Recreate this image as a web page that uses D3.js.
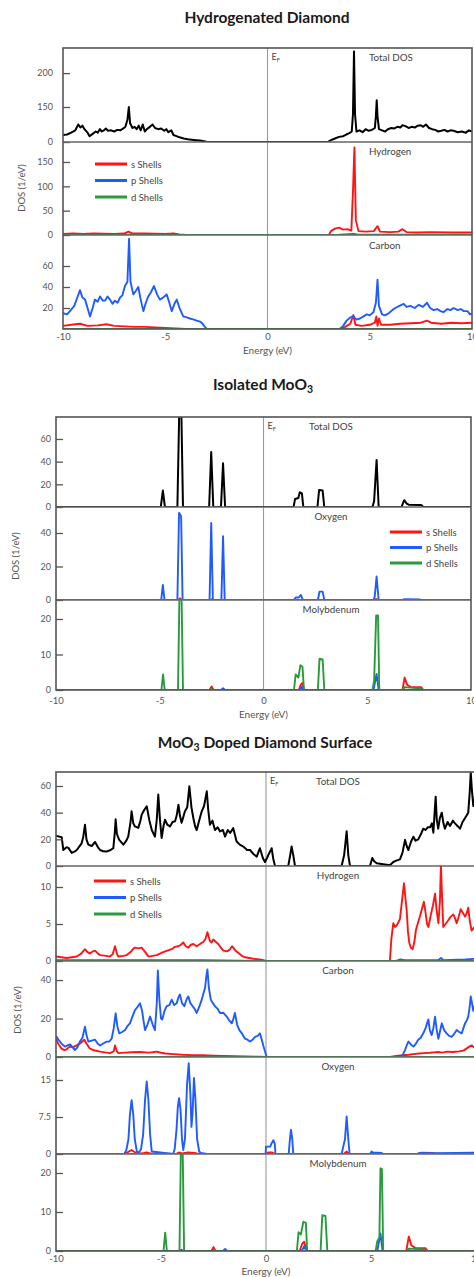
<!DOCTYPE html>
<html><head><meta charset="utf-8">
<script src="https://cdn.jsdelivr.net/npm/d3@7"></script>
<style>
body{margin:0;background:#fff;}
svg{display:block;}
</style></head><body>
<svg id="c" width="474" height="1277"></svg>
<script>
// ---------- data ----------
const energyTicks = [-10, -5, 0, 5, 10];
const shellNames = ["s Shells", "p Shells", "d Shells"];
const zeroLine = [[-10, 0], [10, 0]];

// Hydrogenated Diamond
const hdTotal = [[-10,30],[-9.8,32],[-9.6,40],[-9.4,50],[-9.25,75],[-9.15,62],[-9.05,70],[-8.95,55],[-8.8,40],[-8.7,25],[-8.55,35],[-8.4,45],[-8.3,40],[-8.2,55],[-8.1,45],[-8.0,50],[-7.9,58],[-7.8,48],[-7.65,50],[-7.5,45],[-7.35,52],[-7.2,50],[-7.05,58],[-6.95,65],[-6.85,95],[-6.78,150],[-6.72,80],[-6.6,60],[-6.5,65],[-6.4,55],[-6.3,70],[-6.2,50],[-6.1,75],[-6.0,45],[-5.9,55],[-5.75,65],[-5.62,75],[-5.5,60],[-5.35,55],[-5.2,58],[-5.05,48],[-4.95,55],[-4.85,42],[-4.7,50],[-4.6,30],[-4.45,25],[-4.3,20],[-4.1,15],[-3.9,12],[-3.7,10],[-3.5,8],[-3.3,6],[-3.1,3],[-2.95,0],[2.95,0],[3.1,8],[3.3,15],[3.5,22],[3.7,25],[3.85,32],[4.0,38],[4.12,45],[4.18,120],[4.23,232],[4.28,120],[4.35,45],[4.5,50],[4.65,42],[4.8,55],[4.95,48],[5.1,52],[5.25,60],[5.3,110],[5.34,160],[5.38,110],[5.45,55],[5.6,50],[5.75,45],[5.9,55],[6.05,60],[6.2,58],[6.35,65],[6.5,62],[6.6,72],[6.75,68],[6.9,60],[7.05,65],[7.2,62],[7.35,70],[7.5,72],[7.6,65],[7.75,75],[7.9,60],[8.05,55],[8.2,52],[8.35,45],[8.5,48],[8.65,52],[8.8,45],[8.95,50],[9.1,48],[9.3,42],[9.5,45],[9.7,40],[9.85,50],[10,45]];
const hdHydrogenS = [[-10,2],[-9.5,3],[-9,2],[-8.5,3],[-8,2.5],[-7.5,2],[-7,3],[-6.8,7],[-6.6,3],[-6,3],[-5.5,2.5],[-5,2],[-4.6,3],[-4.3,1],[-4,0],[3,0],[3.1,8],[3.3,13],[3.5,15],[3.7,11],[3.9,12],[4.1,9],[4.18,90],[4.25,180],[4.32,30],[4.45,8],[4.8,7],[5.2,8],[5.3,14],[5.38,18],[5.5,7],[6,6],[6.4,7],[6.6,12],[6.8,6],[7.3,5],[8,6],[9,5],[10,5]];
const hdHydrogenP = [[-10,0.5],[-4,0.3],[-3,0],[3,0],[3.5,0.5],[4.25,2],[4.4,0.5],[10,0.5]];
const hdHydrogenD = zeroLine;
const hdCarbonS = [[-10,3],[-9.6,4],[-9.17,5],[-8.8,3],[-8.3,3.5],[-7.87,4.5],[-7.5,3],[-7,2.5],[-6.5,2],[-6,2],[-5.5,1.5],[-5,1],[-4.5,0.5],[-4,0],[3.5,0],[3.8,2],[4.05,5],[4.2,13.3],[4.3,4],[4.6,3],[5.0,4],[5.25,6],[5.32,12],[5.38,3],[5.45,10],[5.55,4],[6,4],[6.5,5],[7,5.5],[7.5,6],[7.8,8],[8,6],[8.5,5],[9,6],[9.5,5.5],[10,6]];
const hdCarbonP = [[-10,15],[-9.8,14],[-9.66,17],[-9.45,22],[-9.3,30],[-9.17,37],[-9.05,30],[-8.92,28],[-8.8,20],[-8.68,12],[-8.55,20],[-8.44,28],[-8.3,26],[-8.19,31],[-8.05,27],[-7.95,27],[-7.82,31],[-7.7,28],[-7.58,24],[-7.46,27],[-7.33,25],[-7.21,30],[-7.1,32],[-6.97,41],[-6.85,45],[-6.77,86],[-6.7,45],[-6.56,33],[-6.45,36],[-6.32,40],[-6.2,28],[-6.07,17],[-5.95,25],[-5.83,31],[-5.7,35],[-5.55,41],[-5.4,33],[-5.26,28],[-5.1,30],[-4.93,33],[-4.8,25],[-4.68,17],[-4.55,24],[-4.44,28],[-4.3,20],[-4.12,12],[-3.95,11],[-3.79,10],[-3.6,9],[-3.46,8],[-3.3,7],[-3.22,6],[-3.1,3],[-2.97,0],[3.55,0],[3.7,3],[3.87,8],[4.05,11],[4.2,12],[4.35,9],[4.52,10],[4.7,12],[4.85,14],[5.0,13],[5.18,16],[5.3,25],[5.38,47],[5.45,22],[5.6,14],[5.75,13],[5.93,15],[6.1,18],[6.25,20],[6.45,22],[6.66,24],[6.8,21],[6.99,22],[7.2,20],[7.4,23],[7.6,21],[7.8,25],[7.95,20],[8.13,18],[8.3,19],[8.46,17],[8.6,16],[8.8,19],[8.95,18],[9.1,20],[9.3,18],[9.45,19],[9.6,17],[9.78,17],[9.9,14],[10,15]];
const hdCarbonD = zeroLine;

// Isolated MoO3
const moTotal = [[-10,0],[-4.95,0],[-4.85,14.5],[-4.75,0],[-4.15,0],[-4.06,85],[-3.96,85],[-3.88,0],[-2.62,0],[-2.52,48.5],[-2.42,0],[-2.05,0],[-1.95,38.5],[-1.85,0],[1.45,0],[1.52,7],[1.68,8],[1.75,13],[1.85,12],[1.92,0],[2.6,0],[2.68,15],[2.85,14.5],[2.93,0],[5.25,0],[5.33,5],[5.45,41.5],[5.55,0],[6.65,0],[6.78,6],[6.9,3],[7.0,2],[7.6,1.8],[7.7,0],[10,0]];
const moOxygenS = [[-10,0],[-4.1,0],[-4.03,1],[-3.95,0],[-2.55,0],[-2.5,0.5],[-2.45,0],[5.38,0],[5.43,0.6],[5.5,0],[10,0]];
const moOxygenP = [[-10,0],[-4.93,0],[-4.85,9],[-4.77,0],[-4.15,0],[-4.07,52],[-3.97,50],[-3.9,0],[-2.6,0],[-2.52,46],[-2.44,0],[-2.03,0],[-1.95,38],[-1.87,0],[1.45,0],[1.55,1.5],[1.7,1.5],[1.8,3],[1.9,0],[2.62,0],[2.7,5],[2.85,5],[2.93,0],[5.3,0],[5.36,2],[5.45,14],[5.55,0],[6.7,0],[6.8,0.5],[7.5,0.3],[7.6,0],[10,0]];
const moOxygenD = zeroLine;
const moMolyS = [[-10,0],[-2.6,0],[-2.5,1],[-2.4,0],[1.7,0],[1.8,1.5],[1.88,2],[1.95,0],[6.7,0],[6.8,3.5],[6.92,1.5],[7.1,0.8],[7.6,0.8],[7.7,0],[10,0]];
const moMolyP = [[-10,0],[-2.05,0],[-1.95,0.5],[-1.85,0],[1.75,0],[1.85,1],[1.93,0],[5.3,0],[5.45,4.5],[5.55,0],[10,0]];
const moMolyD = [[-10,0],[-4.92,0],[-4.84,4.4],[-4.76,0],[-4.12,0],[-4.05,27],[-3.95,27],[-3.88,0],[-2.55,0],[-2.5,0.4],[-2.45,0],[1.47,0],[1.55,4.4],[1.68,3.5],[1.78,7],[1.88,6.5],[1.95,0],[2.62,0],[2.7,8.8],[2.85,8.6],[2.93,0],[5.25,0],[5.33,2.5],[5.43,21],[5.52,21],[5.58,0],[6.7,0],[6.8,0.8],[7.6,0.4],[7.7,0],[10,0]];

// MoO3 Doped Diamond Surface
const dsTotal = [[-10,22],[-9.97,22.6],[-9.73,21.6],[-9.65,12],[-9.5,14],[-9.41,13.6],[-9.25,9.8],[-9.1,11],[-9.01,12],[-8.78,17],[-8.7,22],[-8.62,31],[-8.55,20],[-8.46,16],[-8.3,15],[-8.14,18],[-8.0,14],[-7.9,12],[-7.75,11],[-7.59,10.8],[-7.4,12],[-7.27,13.4],[-7.2,25],[-7.16,35],[-7.1,24],[-6.99,19.6],[-6.79,16],[-6.65,19],[-6.56,22],[-6.45,33],[-6.4,41],[-6.32,32],[-6.24,29.7],[-6.08,28.6],[-5.98,34],[-5.92,38.5],[-5.8,42],[-5.68,44.8],[-5.55,34],[-5.44,27],[-5.29,22],[-5.2,35],[-5.13,53.6],[-5.05,35],[-4.97,21],[-4.88,30],[-4.81,34.7],[-4.7,31],[-4.57,29.7],[-4.45,33],[-4.33,33.5],[-4.25,38],[-4.17,46],[-4.1,38],[-4.02,32.4],[-3.95,36],[-3.86,41],[-3.75,44],[-3.65,59.8],[-3.55,44],[-3.46,36],[-3.38,30],[-3.3,27],[-3.2,33],[-3.06,41],[-2.95,45],[-2.82,56],[-2.75,42],[-2.67,31],[-2.55,34],[-2.43,27],[-2.3,29],[-2.19,25.9],[-2.05,27],[-1.95,22],[-1.82,27],[-1.71,24.8],[-1.56,28.4],[-1.4,18.4],[-1.25,16],[-1.08,14.6],[-0.9,12],[-0.76,12],[-0.6,9],[-0.44,7],[-0.35,11],[-0.29,13.3],[-0.15,6],[-0.05,3],[0.05,6],[0.11,8.3],[0.2,11],[0.27,13.3],[0.35,5],[0.43,0],[1.06,0],[1.15,8],[1.22,14.6],[1.3,8],[1.38,0],[3.6,0],[3.72,8],[3.84,26],[3.92,8],[4.0,0],[4.95,0],[5.06,6],[5.15,3.5],[5.27,2],[5.5,1.5],[5.9,0.5],[6.06,3],[6.2,4],[6.38,5],[6.5,10],[6.62,19.6],[6.7,15],[6.78,12],[6.9,18],[7.02,22],[7.12,19],[7.25,20],[7.38,24],[7.49,28],[7.6,27],[7.7,29],[7.81,29],[7.9,32],[7.97,25],[8.03,40],[8.08,52],[8.13,35],[8.2,28],[8.28,36],[8.37,40],[8.45,32],[8.52,28],[8.65,33],[8.76,30],[8.9,34],[9.0,32],[9.12,30],[9.24,28],[9.36,33],[9.48,36],[9.56,38],[9.63,40],[9.7,55],[9.75,70],[9.8,58],[9.87,45],[9.95,52],[10,48]];
const dsHydrogenS = [[-10,0.6],[-9.75,0.5],[-9.49,0.4],[-9.25,0.5],[-9.01,0.6],[-8.8,1.0],[-8.62,1.6],[-8.5,1.2],[-8.38,1.0],[-8.25,1.3],[-8.14,1.4],[-8.0,1.0],[-7.9,0.8],[-7.6,0.7],[-7.43,0.6],[-7.3,0.9],[-7.19,2.0],[-7.1,1.0],[-7.03,0.6],[-6.8,0.7],[-6.63,0.8],[-6.45,1.2],[-6.3,1.7],[-6.24,1.8],[-6.08,1.7],[-5.92,1.8],[-5.75,1.2],[-5.6,0.6],[-5.4,0.7],[-5.21,0.8],[-5.05,1.0],[-4.89,1.2],[-4.7,1.4],[-4.49,1.6],[-4.35,1.9],[-4.17,2.0],[-4.05,2.2],[-3.94,2.5],[-3.82,2.0],[-3.7,1.8],[-3.58,2.2],[-3.46,2.3],[-3.3,2.0],[-3.14,2.3],[-2.98,2.6],[-2.88,3.0],[-2.79,3.9],[-2.72,3.2],[-2.67,2.7],[-2.59,2.5],[-2.51,2.9],[-2.4,2.6],[-2.27,2.3],[-2.15,1.8],[-2.03,1.4],[-1.85,1.3],[-1.71,1.6],[-1.62,2.0],[-1.56,1.8],[-1.45,1.4],[-1.32,1.1],[-1.15,0.7],[-1.0,0.5],[-0.8,0.4],[-0.6,0.3],[-0.3,0.2],[-0.13,0.1],[0.0,0],[5.9,0],[5.97,3],[6.06,5.1],[6.14,4.6],[6.22,4.8],[6.3,5.2],[6.38,5.7],[6.47,8],[6.57,10.5],[6.64,8.5],[6.7,6.8],[6.76,4],[6.82,2.5],[6.9,1.8],[6.98,1.6],[7.06,2.5],[7.14,4.2],[7.24,5.2],[7.33,6.0],[7.42,7],[7.52,8.0],[7.6,6.5],[7.67,5],[7.73,4.6],[7.8,5.5],[7.86,6.4],[7.95,7.5],[8.05,9.1],[8.12,7],[8.21,5.1],[8.28,8],[8.33,13],[8.38,9],[8.44,4.6],[8.55,5],[8.68,5.5],[8.8,6],[8.92,6.3],[9.0,5.8],[9.08,5.1],[9.18,6],[9.27,7.0],[9.38,6.5],[9.48,6.0],[9.56,6.5],[9.63,7.2],[9.7,5.5],[9.79,4.1],[9.9,4.5],[10,4.8]];
const dsHydrogenP = [[-10,0.1],[-6,0.1],[-3,0.1],[0,0],[6.2,0],[6.4,0.2],[6.6,0.1],[8.2,0.1],[8.33,0.4],[8.45,0.1],[9.5,0.2],[10,0.3]];
const dsHydrogenD = zeroLine;
const dsCarbonS = [[-10,9.5],[-9.9,7],[-9.75,4.5],[-9.6,3.6],[-9.5,4],[-9.35,5.4],[-9.2,5],[-9.0,6.2],[-8.8,7.5],[-8.65,9],[-8.55,7],[-8.4,4.5],[-8.2,3.5],[-7.9,2.8],[-7.6,2.3],[-7.43,2],[-7.25,3],[-7.19,6],[-7.1,3],[-7.03,2],[-6.7,2.3],[-6.4,2.5],[-6.0,2.6],[-5.6,2.3],[-5.4,2.5],[-5.2,2.8],[-5.0,2.2],[-4.8,1.8],[-4.4,1.5],[-4.0,1.2],[-3.5,1.0],[-3.0,0.9],[-2.5,0.7],[-2.0,0.5],[-1.5,0.4],[-1.0,0.3],[-0.3,0.1],[0,0],[5.9,0],[6.2,0.5],[6.5,0.9],[6.8,1.2],[7.0,1.5],[7.3,1.8],[7.5,2.0],[7.8,2.2],[8.0,2.4],[8.2,2.6],[8.4,2.3],[8.6,2.8],[8.9,2.6],[9.2,2.9],[9.4,3.3],[9.56,4.5],[9.7,5.5],[9.8,6],[9.9,5],[10,5.5]];
const dsCarbonP = [[-10,10],[-9.97,10.5],[-9.89,9],[-9.81,8],[-9.7,6.5],[-9.57,5.4],[-9.45,6],[-9.33,6.5],[-9.2,5],[-9.1,3.6],[-8.98,5],[-8.86,8],[-8.74,10],[-8.62,15.7],[-8.54,11],[-8.46,8],[-8.3,8.5],[-8.14,9],[-8.02,7],[-7.9,6],[-7.75,7],[-7.59,8],[-7.47,8],[-7.35,9.5],[-7.25,15],[-7.16,22.7],[-7.08,16],[-6.99,12.3],[-6.85,13],[-6.71,14],[-6.6,16],[-6.48,17.5],[-6.36,21],[-6.24,24.4],[-6.12,26],[-6.0,27.9],[-5.9,24],[-5.82,18],[-5.76,14],[-5.64,17],[-5.52,21],[-5.4,17],[-5.29,14],[-5.2,28],[-5.15,45],[-5.08,30],[-5.0,20],[-4.94,19.5],[-4.83,24],[-4.73,26.4],[-4.6,27],[-4.49,29.8],[-4.37,27],[-4.25,28],[-4.17,31],[-4.1,32.5],[-4.0,28],[-3.89,26.4],[-3.78,30],[-3.7,31.5],[-3.6,28],[-3.49,26.4],[-3.4,25],[-3.3,22.9],[-3.18,26],[-3.06,29.8],[-2.98,33],[-2.9,36],[-2.84,42],[-2.79,45.5],[-2.72,36],[-2.63,29.8],[-2.53,28],[-2.43,26.4],[-2.3,25],[-2.19,22.9],[-2.03,23],[-1.87,21],[-1.75,19],[-1.63,17.5],[-1.55,20],[-1.48,22.9],[-1.38,17],[-1.27,14],[-1.13,12],[-1.0,9.5],[-0.88,9],[-0.76,8],[-0.64,9],[-0.52,10.5],[-0.4,11],[-0.29,12.3],[-0.2,9],[-0.13,6],[-0.05,3],[0.03,0],[6.46,0],[6.55,2],[6.62,3.6],[6.7,6],[6.78,8],[6.9,6.5],[7.02,5.4],[7.14,7],[7.25,9],[7.37,10],[7.49,12.3],[7.6,15],[7.68,18],[7.73,19.5],[7.8,14],[7.89,11.4],[7.97,15],[8.05,21],[8.13,14],[8.21,9.5],[8.3,14],[8.37,17.5],[8.48,14],[8.6,12.3],[8.72,11],[8.84,10.5],[8.96,12],[9.08,14],[9.2,13],[9.32,12.3],[9.4,15],[9.48,17.5],[9.56,19],[9.63,21],[9.7,26],[9.75,31.5],[9.81,28],[9.87,24],[9.95,27],[10,26]];
const dsCarbonD = zeroLine;
const dsOxygenS = [[-10,0],[-6.7,0],[-6.5,0.6],[-6.4,0.8],[-6.3,0.5],[-6.1,0],[-5.8,0.2],[-5.7,0.3],[-5.5,0.1],[-4.3,0],[-4.15,0.3],[-4.0,0.1],[-3.7,0.3],[-3.4,0.2],[-3.2,0],[0,0],[0.1,0.3],[0.3,0.3],[0.45,0],[3.7,0],[3.84,0.5],[3.95,0],[5.0,0],[5.1,0.15],[5.4,0.1],[5.6,0],[7.2,0],[7.4,0.25],[7.9,0.2],[8.2,0],[10,0]];
const dsOxygenP = [[-10,0],[-6.75,0],[-6.65,0.8],[-6.55,3],[-6.48,8],[-6.4,10.9],[-6.32,8],[-6.25,3],[-6.15,0.5],[-6.05,0.3],[-5.95,1.0],[-5.85,4],[-5.76,11],[-5.68,14.7],[-5.6,11],[-5.52,4],[-5.44,0.5],[-4.42,0],[-4.35,1],[-4.26,5],[-4.2,9.5],[-4.14,11.3],[-4.07,9],[-4.0,3],[-3.94,0.8],[-3.86,3],[-3.76,14],[-3.68,18.4],[-3.6,12],[-3.55,5.5],[-3.5,8],[-3.43,15.4],[-3.36,11],[-3.28,3],[-3.18,0.5],[-3.1,0.2],[-2.8,0],[-0.02,0],[0.0,1.5],[0.2,1.5],[0.27,2.2],[0.35,2.8],[0.42,2.0],[0.45,0],[1.08,0],[1.14,3],[1.19,4.9],[1.25,3],[1.3,0],[3.6,0],[3.68,1.5],[3.76,3],[3.84,7.6],[3.92,3],[3.98,0],[4.95,0],[5.03,0.5],[5.1,0.3],[5.5,0.2],[5.6,0],[7.2,0],[7.35,0.2],[8.0,0.15],[9,0.2],[10,0.25]];
const dsOxygenD = zeroLine;
const dsMolyS = [[-10,0],[-2.6,0],[-2.5,1],[-2.4,0],[1.6,0],[1.72,1.8],[1.82,2.4],[1.92,0],[6.68,0],[6.8,3.7],[6.92,1.5],[7.1,0.8],[7.6,0.7],[7.7,0],[10,0]];
const dsMolyP = [[-10,0],[-4.1,0],[-4.02,0.3],[-3.95,0],[-2.05,0],[-1.95,0.5],[-1.85,0],[1.7,0],[1.82,1.2],[1.92,0],[5.3,0],[5.45,4.5],[5.55,0],[10,0]];
const dsMolyD = [[-10,0],[-4.88,0],[-4.8,4.7],[-4.72,0],[-4.12,0],[-4.05,27],[-3.97,27],[-3.9,0],[-2.55,0],[-2.48,0.4],[-2.42,0],[1.47,0],[1.55,4.8],[1.66,4.2],[1.78,7.5],[1.9,7.2],[1.96,0],[2.6,0],[2.68,9.2],[2.83,9.0],[2.92,0],[5.22,0],[5.3,2.5],[5.4,3.5],[5.45,21.2],[5.52,21],[5.58,0],[6.7,0],[6.8,0.6],[7.6,0.4],[7.7,0],[10,0]];

// tick labels per panel
const hdTotalTicks = [0, 150, 200], hdHydrogenTicks = [0, 50, 100, 150], hdCarbonTicks = [20, 40, 60];
const moTotalTicks = [0, 20, 40, 60], moOxygenTicks = [0, 20, 40], moMolyTicks = [0, 10, 20];
const dsTotalTicks = [0, 20, 40, 60], dsHydrogenTicks = [0, 5, 10], dsCarbonTicks = [0, 20, 40], dsOxygenTicks = [0, 7.5, 15], dsMolyTicks = [0, 10, 20];

// ---------- layout / style ----------
const COL = { s: "#ff1414", p: "#1f5bff", d: "#2a9a3c", total: "#000" };
const FONT = "Lato, 'Open Sans', 'Liberation Sans', sans-serif";
const shells = (s, p, d) => [{ data: s, c: COL.s }, { data: p, c: COL.p }, { data: d, c: COL.d }];

const charts = [
  { title: [["Hydrogenated Diamond"]], titleX: 267, titleY: 23, left: 63, right: 472, tickPad: 10,
    xLabY: 340, xTitleY: 354, dosX: 25, dosY: 188, labX: 369, labAnchor: "start",
    legend: { x: 95, y: 164, dy: 16.5 },
    panels: [
      { name: "Total DOS", domain: [0, 150, 237], range: [142, 107, 48], ticks: hdTotalTicks, series: [{ data: hdTotal, c: COL.total }], ef: true },
      { name: "Hydrogen", domain: [0, 191], range: [235, 142], ticks: hdHydrogenTicks, series: shells(hdHydrogenS, hdHydrogenP, hdHydrogenD) },
      { name: "Carbon", domain: [0, 88.6], range: [329, 236], ticks: hdCarbonTicks, series: shells(hdCarbonS, hdCarbonP, hdCarbonD) }
    ] },
  { title: [["Isolated MoO"], ["3", true]], titleX: 263, titleY: 390, left: 56, right: 471, tickPad: 5,
    xLabY: 704, xTitleY: 718, dosX: 19, dosY: 556, labX: 331, labAnchor: "middle",
    legend: { x: 390, y: 532, dy: 15.5, panel: 1 },
    panels: [
      { name: "Total DOS", domain: [0, 79.4], range: [507, 417], ticks: moTotalTicks, series: [{ data: moTotal, c: COL.total }], ef: true },
      { name: "Oxygen", domain: [0, 55.5], range: [600, 507], ticks: moOxygenTicks, series: shells(moOxygenS, moOxygenP, moOxygenD) },
      { name: "Molybdenum", domain: [0, 25.35], range: [690, 600], ticks: moMolyTicks, series: shells(moMolyS, moMolyP, moMolyD) }
    ] },
  { title: [["MoO"], ["3", true], [" Doped Diamond Surface"]], titleX: 265, titleY: 748, left: 56, right: 476, tickPad: 5,
    xLabY: 1262, xTitleY: 1275, dosX: 21, dosY: 1010, labX: 338, labAnchor: "middle",
    legend: { x: 94, y: 881, dy: 16.5 },
    panels: [
      { name: "Total DOS", domain: [0, 70.5], range: [866, 772], ticks: dsTotalTicks, series: [{ data: dsTotal, c: COL.total }], ef: true },
      { name: "Hydrogen", domain: [0, 12.84], range: [961, 866], ticks: dsHydrogenTicks, series: shells(dsHydrogenS, dsHydrogenP, dsHydrogenD) },
      { name: "Carbon", domain: [0, 49.9], range: [1057, 961], ticks: dsCarbonTicks, series: shells(dsCarbonS, dsCarbonP, dsCarbonD) },
      { name: "Oxygen", domain: [0, 19.66], range: [1154, 1057], ticks: dsOxygenTicks, series: shells(dsOxygenS, dsOxygenP, dsOxygenD) },
      { name: "Molybdenum", domain: [0, 24.87], range: [1251, 1154], ticks: dsMolyTicks, series: shells(dsMolyS, dsMolyP, dsMolyD) }
    ] }
];

// ---------- draw ----------
const svg = d3.select("#c").attr("font-family", FONT);
const defs = svg.append("defs");

charts.forEach((ch, ci) => {
  const g = svg.append("g");
  const x = d3.scaleLinear().domain([-10, 10]).range([ch.left, ch.right]);
  const top = ch.panels[0].range[ch.panels[0].range.length - 1];
  const bottom = ch.panels[ch.panels.length - 1].range[0];

  // title
  const t = g.append("text").attr("x", ch.titleX).attr("y", ch.titleY).attr("text-anchor", "middle")
    .attr("font-weight", "bold").attr("font-size", 15.5).attr("fill", "#1a1a1a");
  ch.title.forEach(([txt, sub]) => {
    const ts = t.append("tspan").text(txt);
    if (sub) ts.attr("font-size", 10.5).attr("dy", 3);
    else if (t.selectAll("tspan").size() > 1) ts.attr("dy", -3);
  });

  // Fermi level line
  g.append("line").attr("x1", x(0)).attr("x2", x(0)).attr("y1", top).attr("y2", bottom)
    .attr("stroke", "#9a9a9a").attr("stroke-width", 1.1);

  ch.panels.forEach((p, pi) => {
    const y = d3.scaleLinear().domain(p.domain).range(p.range);
    const pTop = p.range[p.range.length - 1], pBot = p.range[0];
    const cid = `clip${ci}_${pi}`;
    defs.append("clipPath").attr("id", cid).append("rect")
      .attr("x", ch.left).attr("y", pTop).attr("width", ch.right - ch.left).attr("height", pBot - pTop);
    const line = d3.line().x(d => x(d[0])).y(d => y(d[1]));
    const sg = g.append("g").attr("clip-path", `url(#${cid})`);
    p.series.forEach(s => {
      sg.append("path").datum(s.data).attr("d", line).attr("fill", "none")
        .attr("stroke", s.c).attr("stroke-width", s.c === COL.total ? 2 : 1.9).attr("stroke-linejoin", "round");
    });

    // y axis with inward ticks
    const ax = g.append("g").attr("transform", `translate(${ch.left},0)`)
      .call(d3.axisLeft(y).tickValues(p.ticks).tickSize(-7).tickPadding(ch.tickPad).tickFormat(d => String(d)));
    ax.select(".domain").remove();
    ax.selectAll("line").attr("stroke", "#555").attr("stroke-width", 1.3);
    ax.selectAll("text").attr("fill", "#555").attr("font-size", 9).attr("font-family", FONT);

    // separator
    if (pi < ch.panels.length - 1) {
      g.append("line").attr("x1", ch.left).attr("x2", ch.right).attr("y1", pBot).attr("y2", pBot)
        .attr("stroke", "#666").attr("stroke-width", 1.3);
    }

    // panel name
    g.append("text").attr("x", ch.labX).attr("y", pTop + 13).attr("text-anchor", ch.labAnchor)
      .attr("font-size", 9.8).attr("fill", "#444").text(p.name);

    if (p.ef) {
      const ef = g.append("text").attr("x", x(0) + 4).attr("y", pTop + 12).attr("font-size", 9).attr("fill", "#444");
      ef.append("tspan").text("E");
      ef.append("tspan").text("F").attr("font-size", 5.5).attr("dy", 2);
    }
  });

  // frame
  g.append("rect").attr("x", ch.left).attr("y", top).attr("width", ch.right - ch.left).attr("height", bottom - top)
    .attr("fill", "none").attr("stroke", "#555").attr("stroke-width", 1.6);

  // x axis labels
  const xa = g.append("g").attr("transform", `translate(0,${bottom})`)
    .call(d3.axisBottom(x).tickValues(energyTicks).tickSize(0).tickPadding(ch.xLabY - bottom - 7).tickFormat(d => String(d)));
  xa.select(".domain").remove();
  xa.selectAll("text").attr("fill", "#555").attr("font-size", 9.5).attr("font-family", FONT);

  g.append("text").attr("x", x(0)).attr("y", ch.xTitleY).attr("text-anchor", "middle")
    .attr("font-size", 10).attr("fill", "#555").text("Energy (eV)");

  g.append("text").attr("transform", `translate(${ch.dosX},${ch.dosY}) rotate(-90)`).attr("text-anchor", "middle")
    .attr("font-size", 9.5).attr("fill", "#555").text("DOS (1/eV)");

  // legend
  const lg = g.append("g");
  [COL.s, COL.p, COL.d].forEach((c, i) => {
    const yy = ch.legend.y + i * ch.legend.dy;
    lg.append("line").attr("x1", ch.legend.x).attr("x2", ch.legend.x + 32).attr("y1", yy).attr("y2", yy)
      .attr("stroke", c).attr("stroke-width", 3);
    lg.append("text").attr("x", ch.legend.x + 36).attr("y", yy + 3.5).attr("font-size", 9.5).attr("fill", "#444").text(shellNames[i]);
  });
});
</script>
</body></html>
